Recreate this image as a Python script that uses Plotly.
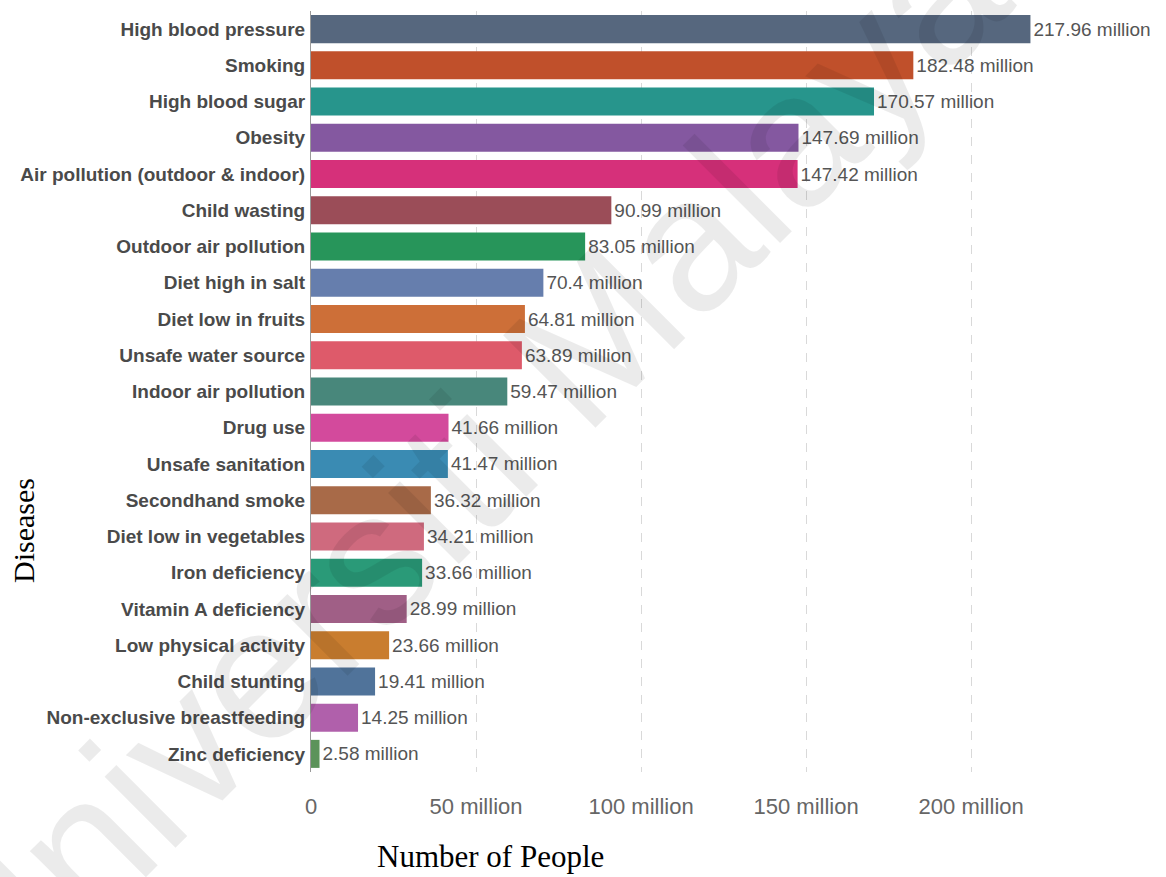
import plotly.graph_objects as go

categories = [
    "High blood pressure", "Smoking", "High blood sugar", "Obesity",
    "Air pollution (outdoor & indoor)", "Child wasting", "Outdoor air pollution",
    "Diet high in salt", "Diet low in fruits", "Unsafe water source",
    "Indoor air pollution", "Drug use", "Unsafe sanitation", "Secondhand smoke",
    "Diet low in vegetables", "Iron deficiency", "Vitamin A deficiency",
    "Low physical activity", "Child stunting", "Non-exclusive breastfeeding",
    "Zinc deficiency",
]
values = [217.96, 182.48, 170.57, 147.69, 147.42, 90.99, 83.05, 70.4, 64.81,
          63.89, 59.47, 41.66, 41.47, 36.32, 34.21, 33.66, 28.99, 23.66, 19.41,
          14.25, 2.58]
colors = ["#56677e", "#c0502b", "#27958c", "#8458a0", "#d6307a", "#9b4d58",
          "#27955a", "#667ead", "#cd6f38", "#de5a6a", "#48877b", "#d34a9c",
          "#3a8bb3", "#a86a48", "#cf6a7e", "#2a9a78", "#a05f86", "#c97d2f",
          "#50739a", "#b060ab", "#5c935a"]
tick_vals = [0, 50, 100, 150, 200]
tick_text = ["0", "50 million", "100 million", "150 million", "200 million"]
labels = [f"{v:g} million" for v in values]

SANS = "Liberation Sans, Arial, Helvetica, sans-serif"
SERIF = "Liberation Serif, Times New Roman, serif"

fig = go.Figure(go.Bar(
    x=values, y=categories, orientation="h",
    marker=dict(color=colors, line=dict(width=0)),
    text=labels, textposition="outside", cliponaxis=False,
    constraintext="none",
    textfont=dict(family=SANS, size=19, color="#555555"),
))

fig.update_layout(
    width=1166, height=877,
    margin=dict(l=311, r=10, t=11, b=105),
    plot_bgcolor="white", paper_bgcolor="white",
    bargap=0.227, showlegend=False,
    xaxis=dict(range=[0, 256], tickvals=tick_vals, ticktext=tick_text,
               showgrid=True, gridcolor="#d9d9d9", griddash="dash", gridwidth=1,
               zeroline=False, showline=False, ticks="", automargin=False,
               ticklabelstandoff=19,
               tickfont=dict(family=SANS, size=22, color="#666666")),
    yaxis=dict(autorange="reversed", showline=True, linecolor="#9a9a9a",
               linewidth=1, showgrid=False, ticks="", ticklabelstandoff=1,
               automargin=False,
               tickfont=dict(family=SANS, size=19, color="#4a4a4a",
                             weight="bold")),
    annotations=[
        dict(text="Diseases", xref="paper", yref="paper", x=-0.3396, y=0.3167,
             xanchor="center", yanchor="middle",
             textangle=-90, showarrow=False,
             font=dict(family=SERIF, size=30, color="black")),
        dict(text="Number of People", xref="paper", yref="paper", x=0.213,
             y=-0.111, xanchor="center", yanchor="middle", showarrow=False,
             font=dict(family=SERIF, size=31, color="black")),
        dict(text="Universiti Malaya", xref="paper", yref="paper", x=0.176,
             y=0.397, xanchor="center", yanchor="middle",
             textangle=-45, showarrow=False,
             font=dict(family=SANS, size=190, color="rgba(0,0,0,0.08)")),
    ],
)

fig.write_html("out.html")
